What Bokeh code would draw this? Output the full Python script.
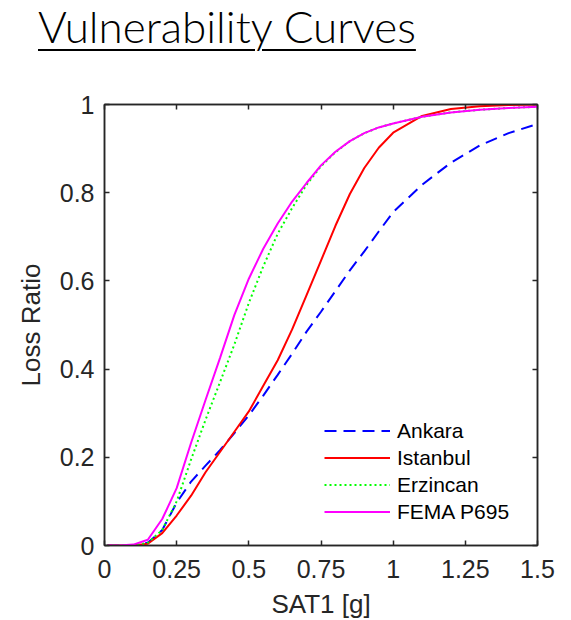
from bokeh.plotting import figure
from bokeh.models import Range1d, FixedTicker, LinearAxis, Legend, LegendItem, CustomJSTickFormatter, Div
from bokeh.layouts import column
from bokeh.embed import file_html
from bokeh.resources import INLINE

TITLE = "Vulnerability Curves"
X_LABEL = "SAT1 [g]"
Y_LABEL = "Loss Ratio"

# SAT1 [g] sample points
sat = [0.01, 0.05, 0.10, 0.15, 0.20, 0.25, 0.30, 0.35, 0.40, 0.45, 0.50, 0.55, 0.60,
       0.65, 0.70, 0.75, 0.80, 0.85, 0.90, 0.95, 1.00, 1.10, 1.20, 1.30, 1.40, 1.50]

ankara = [0.0, 0.0, 0.0, 0.006, 0.035, 0.097, 0.145, 0.181, 0.216, 0.255, 0.295, 0.340, 0.387,
          0.435, 0.485, 0.530, 0.577, 0.624, 0.667, 0.712, 0.756, 0.818, 0.868, 0.907, 0.935, 0.956]
istanbul = [0.0, 0.0, 0.0, 0.004, 0.028, 0.068, 0.113, 0.166, 0.212, 0.258, 0.304, 0.362, 0.420,
            0.490, 0.568, 0.646, 0.725, 0.797, 0.856, 0.902, 0.936, 0.974, 0.990, 0.996, 0.999, 1.0]
erzincan = [0.0, 0.0, 0.001, 0.006, 0.035, 0.100, 0.195, 0.285, 0.370, 0.456, 0.550, 0.633, 0.707,
            0.765, 0.818, 0.860, 0.892, 0.917, 0.935, 0.948, 0.957, 0.972, 0.982, 0.988, 0.992, 0.995]
fema = [0.0, 0.0, 0.002, 0.013, 0.060, 0.130, 0.233, 0.330, 0.425, 0.523, 0.605, 0.673, 0.730,
        0.780, 0.822, 0.862, 0.893, 0.917, 0.935, 0.948, 0.957, 0.972, 0.982, 0.988, 0.992, 0.995]

series_names = ["Ankara", "Istanbul", "Erzincan", "FEMA P695"]
series_values = [ankara, istanbul, erzincan, fema]
series_colors = ["#0000FF", "#FF0000", "#00FF00", "#FF00FF"]
series_dash = ["12 7", "solid", "2 3", "solid"]

x_ticks = [0, 0.25, 0.5, 0.75, 1, 1.25, 1.5]
x_tick_labels = ["0", "0.25", "0.5", "0.75", "1", "1.25", "1.5"]
y_ticks = [0, 0.2, 0.4, 0.6, 0.8, 1]
y_tick_labels = ["0", "0.2", "0.4", "0.6", "0.8", "1"]

FONT = "Liberation Sans"
AX = "#262626"

# ---- underlined title ----
title_html = (
    '<span style="font-family: Lato; font-size: 44px; font-weight: 300; line-height: normal; '
    'color: black; white-space: nowrap; text-decoration: underline; '
    'text-decoration-thickness: 2px; text-underline-offset: 6px;">' + TITLE + '</span>'
)
title_div = Div(text=title_html, width=563, height=88, margin=(0, 0, 0, 0),
                styles={"padding-left": "38px", "line-height": "normal"})

# ---- main figure ----
p = figure(frame_width=433, frame_height=441, x_range=Range1d(0, 1.5), y_range=Range1d(0, 1),
           output_backend="svg", toolbar_location=None,
           min_border_left=104, min_border_right=26, min_border_top=16, min_border_bottom=67)
p.grid.visible = False
p.outline_line_color = AX
p.outline_line_width = 1.5

renderers = []
for name, vals, col, dash in zip(series_names, series_values, series_colors, series_dash):
    r = p.line(sat, vals, line_color=col, line_width=2, line_dash=dash)
    renderers.append((name, r))

xa = p.xaxis[0]
xa.ticker = FixedTicker(ticks=x_ticks)
xa.major_label_overrides = {k: v for k, v in zip(x_ticks, x_tick_labels)}
xa.axis_label = X_LABEL
ya = p.yaxis[0]
ya.ticker = FixedTicker(ticks=y_ticks)
ya.major_label_overrides = {k: v for k, v in zip(y_ticks, y_tick_labels)}
ya.axis_label = Y_LABEL

for ax in (xa, ya):
    ax.major_label_text_font = FONT
    ax.major_label_text_font_size = "25px"
    ax.major_label_text_color = AX
    ax.axis_label_text_font = FONT
    ax.axis_label_text_font_size = "26px"
    ax.axis_label_text_font_style = "normal"
    ax.axis_label_text_color = AX
    ax.axis_line_color = AX
    ax.axis_line_width = 1.5
    ax.major_tick_line_color = AX
    ax.major_tick_line_width = 1.5
    ax.major_tick_in = 5
    ax.major_tick_out = 0
    ax.minor_tick_line_color = None
    ax.major_label_standoff = 10
xa.major_label_standoff = 14
xa.axis_label_standoff = 8
ya.axis_label_standoff = 11

blank = CustomJSTickFormatter(code="return ''")
top = LinearAxis(ticker=FixedTicker(ticks=x_ticks), formatter=blank)
right = LinearAxis(ticker=FixedTicker(ticks=y_ticks), formatter=blank)
for ax in (top, right):
    ax.axis_line_color = AX
    ax.axis_line_width = 1.5
    ax.major_tick_line_color = AX
    ax.major_tick_line_width = 1.5
    ax.major_tick_in = 5
    ax.major_tick_out = 0
    ax.minor_tick_line_color = None
    ax.major_label_standoff = 0
    ax.major_label_text_font_size = "1px"
p.add_layout(top, "above")
p.add_layout(right, "right")

legend = Legend(items=[LegendItem(label=n, renderers=[r]) for n, r in renderers],
                location=(220, 20), orientation="vertical",
                padding=0, margin=0, spacing=0,
                glyph_width=66, glyph_height=27, label_height=27, label_standoff=7,
                label_text_font=FONT, label_text_font_size="21px", label_text_color="black",
                border_line_color=None, background_fill_alpha=0)
p.add_layout(legend)

layout = column(title_div, p, spacing=0)
open("out.html", "w").write(file_html(layout, INLINE))
